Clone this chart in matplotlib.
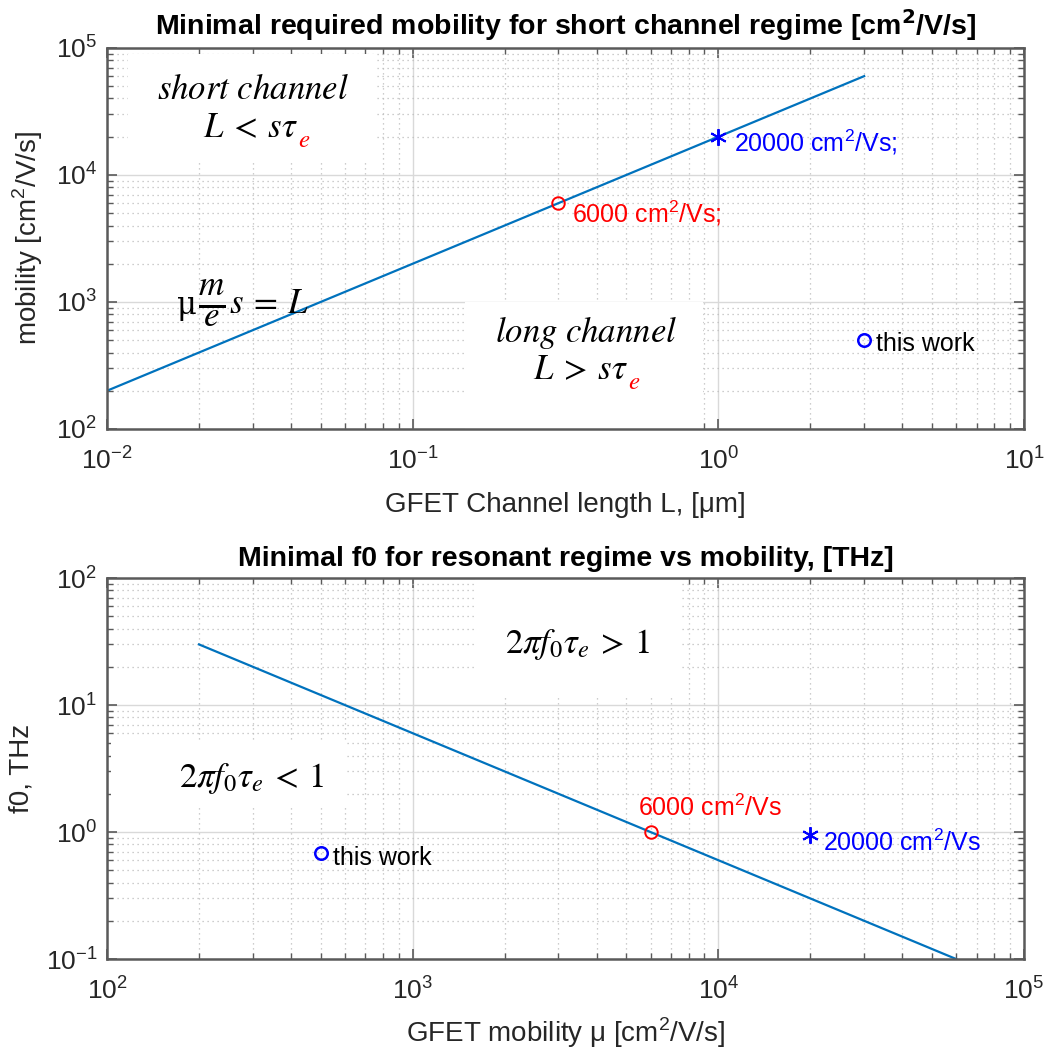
import numpy as np
import matplotlib
matplotlib.use('Agg')
import matplotlib.pyplot as plt
from matplotlib.ticker import LogLocator, NullFormatter
from matplotlib.patches import Rectangle

plt.rcParams['font.family'] = ['Liberation Sans', 'DejaVu Sans']

# top panel data: minimal mobility vs channel length
L_line = [0.01, 3.0]           # um
mu_line = [200, 60000]         # cm2/V/s
L_6000, mu_6000 = 0.3, 6000
L_20000, mu_20000 = 1.0, 20000
L_work, mu_work = 3.0, 500

# bottom panel data: minimal f0 vs mobility
mu_f_line = [200, 60000]
f0_line = [30, 0.1]            # THz
f_6000 = 1.0
f_20000 = 0.95
mu_work2, f_work = 500, 0.68

LINE_C = '#0072BD'
AX_C = '#5a5a5a'
TXT_C = '#262626'
TICK_FS = 19
LAB_FS = 20
ANN_FS = 18
MATH_FS = 25

fig = plt.figure(figsize=(10.51, 10.54), dpi=100)
ax1 = fig.add_axes([0.1018, 0.5930, 0.8725, 0.3615])
ax2 = fig.add_axes([0.1018, 0.0901, 0.8725, 0.3615])


def style(ax):
    ax.set_xscale('log')
    ax.set_yscale('log')
    ax.xaxis.set_major_locator(LogLocator(base=10, numticks=10))
    ax.yaxis.set_major_locator(LogLocator(base=10, numticks=10))
    ax.xaxis.set_minor_locator(LogLocator(base=10, subs=np.arange(2, 10), numticks=20))
    ax.yaxis.set_minor_locator(LogLocator(base=10, subs=np.arange(2, 10), numticks=20))
    ax.xaxis.set_minor_formatter(NullFormatter())
    ax.yaxis.set_minor_formatter(NullFormatter())
    ax.grid(True, which='major', color='#d9d9d9', lw=1.0, ls='-')
    ax.grid(True, which='minor', color='#bdbdbd', lw=0.9, ls=(0, (1, 3)))
    ax.set_axisbelow(True)
    ax.tick_params(which='both', direction='in', top=True, right=True,
                   colors=AX_C, labelcolor=TXT_C, labelsize=TICK_FS)
    ax.tick_params(axis='x', which='both', pad=13)
    ax.tick_params(axis='y', which='both', pad=7)
    ax.tick_params(which='major', length=7, width=1.2)
    ax.tick_params(which='minor', length=4, width=1.0)
    for s in ax.spines.values():
        s.set_color(AX_C)
        s.set_linewidth(1.8)


style(ax1)
style(ax2)

# ---------- top panel ----------
ax1.set_xlim(1e-2, 1e1)
ax1.set_ylim(1e2, 1e5)
ax1.plot(L_line, mu_line, color=LINE_C, lw=1.6)
ax1.plot(L_6000, mu_6000, 'o', mfc='none', mec='red', ms=9, mew=1.4)
ax1.plot(L_20000, mu_20000, marker=(6, 2, 0), color='blue', ms=12, mew=1.4, ls='none')
ax1.plot(L_work, mu_work, 'o', mfc='none', mec='blue', ms=9, mew=1.8)

ax1.annotate(r'6000 cm$^{\mathdefault{2}}$/Vs;', (L_6000, mu_6000), xytext=(14, -10),
             textcoords='offset pixels', color='red', fontsize=ANN_FS, va='center')
ax1.annotate(r'20000 cm$^{\mathdefault{2}}$/Vs;', (L_20000, mu_20000), xytext=(16, -6),
             textcoords='offset pixels', color='blue', fontsize=ANN_FS, va='center')
ax1.annotate('this work', (L_work, mu_work), xytext=(12, -4),
             textcoords='offset pixels', color='black', fontsize=ANN_FS, va='center')

ax1.add_patch(Rectangle((0.023, 0.70), 0.27, 0.285, transform=ax1.transAxes,
                        facecolor='white', edgecolor='none', zorder=1.5))
ax1.add_patch(Rectangle((0.39, 0.0), 0.26, 0.333, transform=ax1.transAxes,
                        facecolor='white', edgecolor='none', zorder=1.5))

ax1.text(0.03, 47000, r'$short\ channel$', math_fontfamily='stix', fontsize=MATH_FS,
         ha='center', va='center', zorder=3)
t1 = ax1.text(0.0295, 23500, r'$L\:<\:s\tau$', math_fontfamily='stix', fontsize=MATH_FS,
              ha='center', va='center', zorder=3)
ax1.annotate(r'$e$', xy=(1.0, 0.12), xycoords=t1, math_fontfamily='stix', fontsize=18,
             color='red', ha='left', va='center', zorder=3)

# mu * m/e * s = L, built from three pieces so the fraction is full size
tm = ax1.text(0.0169, 930, 'μ', fontfamily='DejaVu Serif', fontsize=22,
              ha='left', va='center', zorder=3)
tf = ax1.annotate(r'$\frac{m}{e}$', xy=(1.0, 0.58), xycoords=tm, xytext=(2, 0),
                  textcoords='offset pixels', math_fontfamily='stix', fontsize=36,
                  ha='left', va='center', zorder=3)
ax1.annotate(r'$s\:=\:L$', xy=(1.0, 0.5), xycoords=tf, xytext=(3, 0),
             textcoords='offset pixels', math_fontfamily='stix', fontsize=MATH_FS,
             ha='left', va='center', zorder=3)

ax1.text(0.37, 580, r'$long\ channel$', math_fontfamily='stix', fontsize=MATH_FS,
         ha='center', va='center', zorder=3)
t2 = ax1.text(0.355, 292, r'$L\:>\:s\tau$', math_fontfamily='stix', fontsize=MATH_FS,
              ha='center', va='center', zorder=3)
ax1.annotate(r'$e$', xy=(1.0, 0.12), xycoords=t2, math_fontfamily='stix', fontsize=18,
             color='red', ha='left', va='center', zorder=3)

ax1.set_title(r'Minimal required mobility for short channel regime [cm$^{\mathbf{2}}$/V/s]',
              fontsize=20.5, fontweight='bold', pad=9)
ax1.set_xlabel('GFET Channel length L, [μm]', fontsize=LAB_FS, color=TXT_C, labelpad=13)
ax1.set_ylabel(r'mobility [cm$^{\mathdefault{2}}$/V/s]', fontsize=LAB_FS, color=TXT_C, labelpad=8)

# ---------- bottom panel ----------
ax2.set_xlim(1e2, 1e5)
ax2.set_ylim(1e-1, 1e2)
ax2.plot(mu_f_line, f0_line, color=LINE_C, lw=1.6)
ax2.plot(mu_6000, f_6000, 'o', mfc='none', mec='red', ms=9, mew=1.4)
ax2.plot(mu_20000, f_20000, marker=(6, 2, 0), color='blue', ms=12, mew=1.4, ls='none')
ax2.plot(mu_work2, f_work, 'o', mfc='none', mec='blue', ms=9, mew=1.8)

ax2.annotate(r'6000 cm$^{\mathdefault{2}}$/Vs', (mu_6000, f_6000), xytext=(-13, 24),
             textcoords='offset pixels', color='red', fontsize=ANN_FS, va='center')
ax2.annotate(r'20000 cm$^{\mathdefault{2}}$/Vs', (mu_20000, f_20000), xytext=(13, -8),
             textcoords='offset pixels', color='blue', fontsize=ANN_FS, va='center')
ax2.annotate('this work', (mu_work2, f_work), xytext=(12, -5),
             textcoords='offset pixels', color='black', fontsize=ANN_FS, va='center')

ax2.add_patch(Rectangle((0.401, 0.69), 0.226, 0.31, transform=ax2.transAxes,
                        facecolor='white', edgecolor='none', zorder=1.5))
ax2.add_patch(Rectangle((0.004, 0.40), 0.258, 0.175, transform=ax2.transAxes,
                        facecolor='white', edgecolor='none', zorder=1.5))

ax2.text(3470, 29.7, r'$2\pi f_0\tau_e\:>\:1$', math_fontfamily='stix', fontsize=MATH_FS,
         ha='center', va='center', zorder=3)
ax2.text(298, 2.66, r'$2\pi f_0\tau_e\:<\:1$', math_fontfamily='stix', fontsize=MATH_FS,
         ha='center', va='center', zorder=3)

ax2.set_title('Minimal f0 for resonant regime vs mobility, [THz]',
              fontsize=20.5, fontweight='bold', pad=9)
ax2.set_xlabel(r'GFET mobility μ [cm$^{\mathdefault{2}}$/V/s]', fontsize=LAB_FS, color=TXT_C, labelpad=8)
ax2.set_ylabel('f0, THz', fontsize=LAB_FS, color=TXT_C, labelpad=8)

fig.savefig('out.png', dpi=100, facecolor='white')
